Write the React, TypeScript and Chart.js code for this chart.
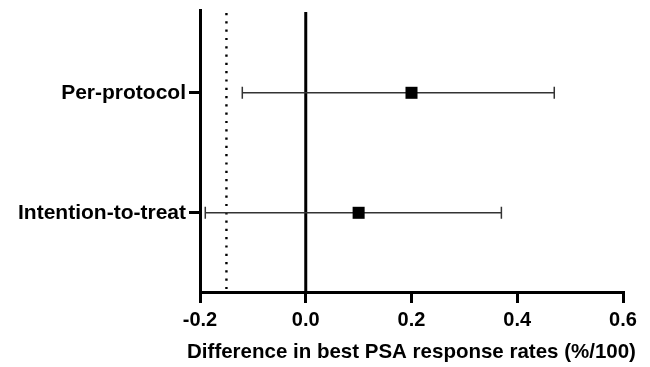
import React, { useEffect, useRef } from "react";
import { Chart, registerables } from "chart.js";

Chart.register(...registerables);

const categories = ["Per-protocol", "Intention-to-treat"];
const categoryPositions = [2, 1];
const estimates = [0.2, 0.1];
const lowerCI = [-0.12, -0.19];
const upperCI = [0.47, 0.37];
const xTicks = [-0.2, 0, 0.2, 0.4, 0.6];
const referenceLine = 0;
const marginLine = -0.15;
const xTitle = "Difference in best PSA response rates (%/100)";

const FONT = "'Liberation Sans', Arial, sans-serif";

const forestPlugin = {
  id: "forest",
  beforeDatasetsDraw(chart: any) {
    const { ctx, chartArea, scales } = chart;
    const xs = scales.x;
    const ys = scales.y;
    ctx.save();
    const xm = xs.getPixelForValue(marginLine);
    ctx.strokeStyle = "#000";
    ctx.lineWidth = 2.4;
    ctx.setLineDash([2.2, 6.1]);
    ctx.beginPath();
    ctx.moveTo(xm, chartArea.top + 3);
    ctx.lineTo(xm, chartArea.bottom);
    ctx.stroke();
    ctx.setLineDash([]);
    const x0 = xs.getPixelForValue(referenceLine);
    ctx.lineWidth = 3;
    ctx.beginPath();
    ctx.moveTo(x0, chartArea.top + 2);
    ctx.lineTo(x0, chartArea.bottom);
    ctx.stroke();
    ctx.strokeStyle = "#333";
    ctx.lineWidth = 1.5;
    for (let i = 0; i < categories.length; i++) {
      const y = ys.getPixelForValue(categoryPositions[i]);
      const xl = xs.getPixelForValue(lowerCI[i]);
      const xr = xs.getPixelForValue(upperCI[i]);
      ctx.beginPath();
      ctx.moveTo(xl, y);
      ctx.lineTo(xr, y);
      ctx.moveTo(xl, y - 6);
      ctx.lineTo(xl, y + 6);
      ctx.moveTo(xr, y - 6);
      ctx.lineTo(xr, y + 6);
      ctx.stroke();
    }
    ctx.restore();
  },
  afterDraw(chart: any) {
    const { ctx, chartArea } = chart;
    ctx.save();
    ctx.fillStyle = "#000";
    ctx.font = `bold 20.5px ${FONT}`;
    ctx.textAlign = "center";
    ctx.textBaseline = "middle";
    ctx.fillText(xTitle, (chartArea.left + chartArea.right) / 2, chartArea.bottom + 60);
    ctx.restore();
  },
};

export default function App() {
  const ref = useRef<HTMLCanvasElement>(null);
  useEffect(() => {
    if (!ref.current) return;
    const chart = new Chart(ref.current, {
      type: "scatter",
      data: {
        datasets: [
          {
            data: estimates.map((v, i) => ({ x: v, y: categoryPositions[i] })),
            pointStyle: "rect",
            pointRadius: 8.5,
            backgroundColor: "#000",
            borderColor: "#000",
            borderWidth: 0,
          },
        ],
      },
      options: {
        animation: false,
        responsive: false,
        maintainAspectRatio: false,
        layout: { padding: { top: 10, right: 27, left: 0, bottom: 0 } },
        plugins: { legend: { display: false }, tooltip: { enabled: false } },
        scales: {
          x: {
            type: "linear",
            min: -0.2,
            max: 0.6,
            afterBuildTicks: (s: any) => {
              s.ticks = xTicks.map((v) => ({ value: v }));
            },
            afterFit: (s: any) => {
              s.height = 75;
            },
            ticks: {
              color: "#000",
              font: { family: FONT, size: 20, weight: "bold" },
              padding: 5,
              maxRotation: 0,
              callback: (v: any) => Number(v).toFixed(1),
            },
            grid: {
              drawOnChartArea: false,
              drawTicks: true,
              tickLength: 11,
              lineWidth: 3,
              color: "#000",
            },
            border: { display: true, width: 3, color: "#000" },
            title: { display: false },
          },
          y: {
            type: "linear",
            min: 0.34,
            max: 2.69,
            afterBuildTicks: (s: any) => {
              s.ticks = categoryPositions.map((v) => ({ value: v }));
            },
            afterFit: (s: any) => {
              s.width = 200;
              s.paddingTop = 0;
              s.paddingBottom = 0;
            },
            ticks: {
              color: "#000",
              font: { family: FONT, size: 21, weight: "bold" },
              padding: 3,
              callback: (v: any) => {
                const i = categoryPositions.indexOf(Number(v));
                return i >= 0 ? categories[i] : "";
              },
            },
            grid: {
              drawOnChartArea: false,
              drawTicks: true,
              tickLength: 11,
              lineWidth: 3,
              color: "#000",
            },
            border: { display: true, width: 3, color: "#000" },
          },
        },
      },
      plugins: [forestPlugin],
    });
    return () => chart.destroy();
  }, []);
  return (
    <div style={{ position: "fixed", left: 0, top: 0, width: 650, height: 367, background: "#fff" }}>
      <canvas ref={ref} width={650} height={367} style={{ width: 650, height: 367 }} />
    </div>
  );
}
